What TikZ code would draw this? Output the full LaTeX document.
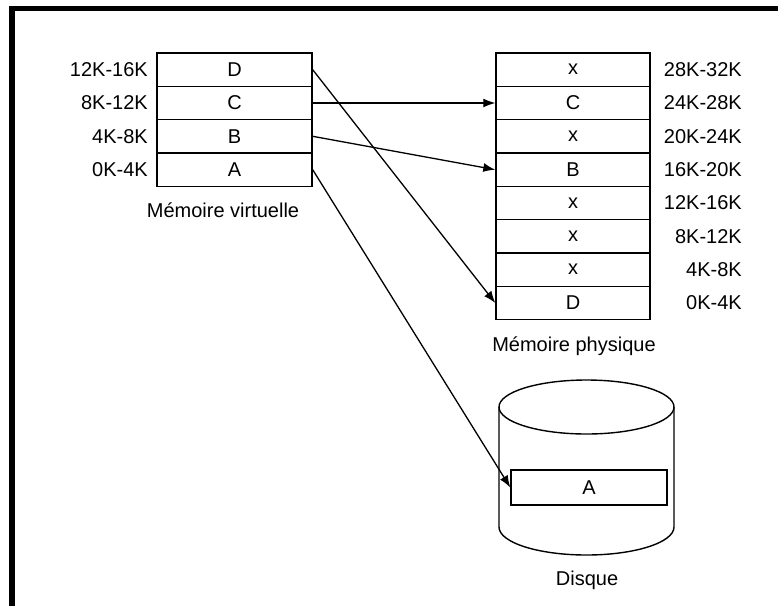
\documentclass[tikz,border=0pt]{standalone}
\usepackage{fontspec}
\setmainfont{Liberation Sans}
\usetikzlibrary{arrows.meta}
\tikzset{
  cell/.style={draw, line width=1.4pt, minimum height=33.33pt, inner sep=0pt, font=\fontsize{20}{24}\selectfont},
  vcell/.style={cell, minimum width=155pt},
  pcell/.style={cell, minimum width=154pt},
  lbl/.style={inner sep=0pt, font=\fontsize{20}{24}\selectfont},
  conn/.style={line width=1.3pt, -{Latex[length=12pt,width=9pt]}},
  diskline/.style={line width=1.4pt}
}
\begin{document}
\begin{tikzpicture}[x=1pt,y=-1pt]
\useasboundingbox (0,0) rectangle (778,606);
\fill[white] (0,0) rectangle (778,606);
% frame bars
\fill[black] (9,6) rectangle (778,11);
\fill[black] (9,6) rectangle (15,606);

% virtual memory
\node[vcell] (vD) at (234.5,69.7) {D};
\node[vcell] (vC) at (234.5,103) {C};
\node[vcell] (vB) at (234.5,136.3) {B};
\node[vcell] (vA) at (234.5,169.7) {A};
\node[lbl, anchor=east] (lv1) at (148,69.7) {12K-16K};
\node[lbl, anchor=east] (lv2) at (148,103) {8K-12K};
\node[lbl, anchor=east] (lv3) at (148,136.3) {4K-8K};
\node[lbl, anchor=east] (lv4) at (148,169.7) {0K-4K};
\node[lbl, anchor=base] (tv) at (223,217) {Mémoire virtuelle};

% physical memory
\node[pcell] (p1) at (573,69.7) {x};
\node[pcell] (pC) at (573,103) {C};
\node[pcell] (p3) at (573,136.3) {x};
\node[pcell] (pB) at (573,169.7) {B};
\node[pcell] (p5) at (573,203) {x};
\node[pcell] (p6) at (573,236.3) {x};
\node[pcell] (p7) at (573,269.7) {x};
\node[pcell] (pD) at (573,303) {D};
\node[lbl, anchor=east] (lp1) at (742,69.7) {28K-32K};
\node[lbl, anchor=east] (lp2) at (742,103) {24K-28K};
\node[lbl, anchor=east] (lp3) at (742,136.3) {20K-24K};
\node[lbl, anchor=east] (lp4) at (742,169.7) {16K-20K};
\node[lbl, anchor=east] (lp5) at (742,203) {12K-16K};
\node[lbl, anchor=east] (lp6) at (742,236.3) {8K-12K};
\node[lbl, anchor=east] (lp7) at (742,269.7) {4K-8K};
\node[lbl, anchor=east] (lp8) at (742,303) {0K-4K};
\node[lbl, anchor=base] (tp) at (574,351) {Mémoire physique};

% disk
\draw[diskline] (586.5,407) ellipse [x radius=87.5pt, y radius=27pt];
\draw[diskline] (499,407) -- (499,527) arc[start angle=180, end angle=360, x radius=87.5pt, y radius=28pt] -- (674,407);
\node[cell, minimum width=156pt, minimum height=35pt] (dA) at (589,487.5) {A};
\node[lbl, anchor=base] (td) at (587,585) {Disque};

% connectors
\draw[conn] (vC.east) -- (pC.west);
\draw[conn] (vB.east) -- (pB.west);
\draw[conn] (vD.east) -- (pD.west);
\draw[conn] (vA.east) -- (dA.west);
\end{tikzpicture}
\end{document}
